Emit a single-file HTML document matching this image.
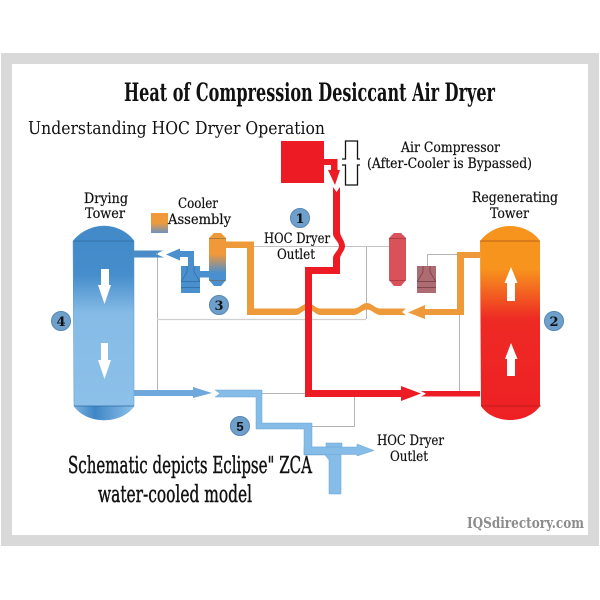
<!DOCTYPE html>
<html>
<head>
<meta charset="utf-8">
<style>
html,body{margin:0;padding:0;background:#fff;width:600px;height:600px;overflow:hidden}
svg{display:block}
text{font-family:"DejaVu Serif","Liberation Serif",serif;fill:#111}
</style>
</head>
<body>
<svg width="600" height="600" viewBox="0 0 600 600" xmlns="http://www.w3.org/2000/svg">
<defs>
<linearGradient id="lt" x1="0" y1="226" x2="0" y2="420" gradientUnits="userSpaceOnUse">
<stop offset="0" stop-color="#4189c8"/><stop offset="0.25" stop-color="#458dcb"/><stop offset="0.45" stop-color="#85bbe6"/><stop offset="1" stop-color="#8dc1ea"/>
</linearGradient>
<linearGradient id="ld" x1="74" y1="0" x2="134" y2="0" gradientUnits="userSpaceOnUse">
<stop offset="0" stop-color="#7ab2e0"/><stop offset="0.35" stop-color="#3f86c6"/><stop offset="1" stop-color="#8dc1ea"/>
</linearGradient>
<linearGradient id="rt" x1="0" y1="226" x2="0" y2="420" gradientUnits="userSpaceOnUse">
<stop offset="0" stop-color="#f7941d"/><stop offset="0.22" stop-color="#f7941d"/><stop offset="0.48" stop-color="#ee2a24"/><stop offset="1" stop-color="#ee2024"/>
</linearGradient>
<linearGradient id="cv" x1="0" y1="233" x2="0" y2="286" gradientUnits="userSpaceOnUse">
<stop offset="0" stop-color="#ee9a3a"/><stop offset="0.4" stop-color="#f0983a"/><stop offset="0.75" stop-color="#4a90cf"/><stop offset="1" stop-color="#4a90cf"/>
</linearGradient>
<linearGradient id="sw" x1="0" y1="213" x2="0" y2="233" gradientUnits="userSpaceOnUse">
<stop offset="0" stop-color="#f0983a"/><stop offset="0.5" stop-color="#ee9a3a"/><stop offset="1" stop-color="#6b93c0"/>
</linearGradient>
</defs>

<!-- frame -->
<rect x="1" y="53" width="598" height="493" fill="#d9d9d9"/>
<rect x="12" y="64" width="576" height="471" fill="#fff"/>

<!-- thin lines -->
<g fill="none" stroke="#b4b4b4" stroke-width="1">
<path d="M157.500 253V391"/>
<path d="M157 319.500H366" stroke="#cfcfcf" stroke-width="1.300"/>
<path d="M366.500 246V319"/>
<path d="M254 246.500H389" stroke="#c4c4c4"/>
<path d="M427.500 266V254.500H457"/>
<path d="M459.500 315V391"/>
<path d="M262 393.500H305"/>
<path d="M354.500 397V426.500H312"/>
</g>

<!-- towers -->
<path d="M73 241C80 232 92 226 104 226C116 226 128 232 134 241V406C128 415 116 420 104 420C92 420 80 415 74 406Z" fill="url(#lt)" stroke="#5a94c8" stroke-width="0.500"/>
<path d="M74 406H134C128 415 116 420 104 420C92 420 80 415 74 406Z" fill="url(#ld)"/>
<path d="M73 241H134M74 406H134" stroke="#2f6a9f" stroke-width="0.800" fill="none"/>
<path d="M480 241C487 232 498 226 510 226C522 226 534 232 540 241V406C534 415 522 420 510 420C498 420 487 415 481 406Z" fill="url(#rt)"/>
<path d="M480 241H540" stroke="#a8521a" stroke-width="0.800" fill="none"/>
<path d="M481 406H541" stroke="#a81a1e" stroke-width="0.800" fill="none"/>

<!-- tower arrows -->
<g fill="#fff">
<path d="M101 269H109V285H111L104.500 304L98 285H101Z"/>
<path d="M101 343H108V360H111L104.500 379L98 360H101Z"/>
<path d="M507 301V283H504.500L511 267L517.500 283H515V301Z"/>
<path d="M507 376V359H505L511 343L517.500 359H515V376Z"/>
</g>

<!-- orange pipes (beneath red) -->
<g fill="#ee9a3a">
<path d="M480 252H457V309H425V305L408 312.500L425 319V315H464V258H480Z"/>
<path d="M406 308.500L402 312L406 315H380C375 315 372 309.500 367 309.500C362 309.500 359 315 354 315H320C316 315 313 309.500 308 309.500C303 309.500 300 315 296 315H247V248H225V241.500H254V308.500H296C300 308.500 303 303.500 308 303.500C313 303.500 316 308.500 320 308.500H354C359 308.500 362 303 367 303C372 303 375 308.500 380 308.500Z"/>
</g>

<!-- red compressor and pipe -->
<rect x="281" y="141" width="43" height="42" fill="#ed1c24"/>
<g fill="#ed1c24">
<path d="M324 159H337.500V170H340L335 185L328 170H331V165H324Z"/>
<path d="M333 187L336.500 192L340 187V232C340 236 345 241 345 246C345 251 340 254 340 259V274H312V390H401V386L421 393.500L401 401V397H305V267H333V258C333 254 339 250 339 246C339 242 333 238 333 234Z"/>
<path d="M421 391H480V396.500H421L426 393.700Z"/>
</g>

<!-- cooler vessel -->
<path d="M209 238L214 233H221L226 238V280L221 286H214L209 280Z" fill="url(#cv)"/>
<path d="M209 238.500H226M209 280.500H226" stroke="#7a5a3a" stroke-width="0.600"/>
<rect x="151" y="213" width="17" height="20" fill="url(#sw)"/>

<!-- blue cooler box -->
<rect x="181" y="266" width="19" height="27" fill="#4a90cf"/>
<rect x="200" y="271" width="9" height="6.500" fill="#4a90cf"/>
<path d="M180 251H194V266H188V257H180V260.500L166 254.500L180 248.500Z" fill="#4a90cf"/>
<path d="M187 266V272L181.500 281M194 266V272L199.500 281M181 281.500H200M181 287.500H200" fill="none" stroke="#2f6a9f" stroke-width="0.700"/>

<!-- red vessel, regenerating cooler box -->
<path d="M389 238L394 233H401L406 238V280L401 286H394L389 280Z" fill="#d9515a"/>
<path d="M389 238.500H406M389 280.500H406" stroke="#8f2a30" stroke-width="0.600"/>
<rect x="417" y="266" width="19" height="27" fill="#ad6b72"/>
<path d="M423 266V272L417.500 281M430 266V272L435.500 281M417 281.500H436M417 287.500H436" fill="none" stroke="#6f3a40" stroke-width="0.700"/>

<!-- blue pipes -->
<path d="M134 250.500H163L156 254L164 257.500H134Z" fill="#4a8cc8"/>
<path d="M134 390H193V387L212 393L193 398V396H134Z" fill="#6ea8dc"/>
<g fill="#85bde8" stroke="#6ba3d4" stroke-width="0.500">
<path d="M326 443H342V447H341V494H329V460L325 455H304V447H326Z"/>
<path d="M215 390H262V423H312V447H357V444L374 450.500L357 456V454.500H304V429H256V397H215L220 393.500Z"/>
</g>

<!-- bracket -->
<g fill="none" stroke="#111" stroke-width="1.300">
<path d="M342 159H345.500V141H357.500V159H360"/>
<path d="M342 165H345.500V185H357.500V165H360"/>
</g>

<!-- number circles -->
<g fill="#6f9fcb" stroke="#5388b8" stroke-width="1">
<circle cx="300" cy="218" r="9.500"/>
<circle cx="554" cy="321" r="9.500"/>
<circle cx="219" cy="305" r="9.500"/>
<circle cx="61" cy="321" r="9.500"/>
<circle cx="240" cy="426" r="9.500"/>
</g>
<g font-size="13" text-anchor="middle" font-weight="bold">
<text x="300" y="223">1</text>
<text x="554" y="326">2</text>
<text x="219" y="310">3</text>
<text x="61" y="326">4</text>
<text x="240" y="431" style="font-family:'Liberation Sans',sans-serif">5</text>
</g>

<!-- text -->
<text x="124" y="101" font-size="25" font-weight="bold" textLength="371" lengthAdjust="spacingAndGlyphs">Heat of Compression Desiccant Air Dryer</text>
<text x="28" y="134" font-size="18" textLength="297" lengthAdjust="spacingAndGlyphs">Understanding HOC Dryer Operation</text>
<g font-size="14" stroke="#111" stroke-width="0.200">
<text x="84" y="203" textLength="44" lengthAdjust="spacingAndGlyphs">Drying</text>
<text x="85" y="218" textLength="40" lengthAdjust="spacingAndGlyphs">Tower</text>
<text x="178" y="208" textLength="40" lengthAdjust="spacingAndGlyphs">Cooler</text>
<text x="168" y="224" textLength="63" lengthAdjust="spacingAndGlyphs">Assembly</text>
<text x="264" y="243" textLength="66" lengthAdjust="spacingAndGlyphs">HOC Dryer</text>
<text x="277" y="259" textLength="38" lengthAdjust="spacingAndGlyphs">Outlet</text>
<text x="401" y="152" textLength="99" lengthAdjust="spacingAndGlyphs">Air Compressor</text>
<text x="367" y="168" textLength="165" lengthAdjust="spacingAndGlyphs">(After-Cooler is Bypassed)</text>
<text x="472" y="202" textLength="86" lengthAdjust="spacingAndGlyphs">Regenerating</text>
<text x="490" y="218" textLength="39" lengthAdjust="spacingAndGlyphs">Tower</text>
<text x="377" y="445" textLength="67" lengthAdjust="spacingAndGlyphs">HOC Dryer</text>
<text x="390" y="461" textLength="38" lengthAdjust="spacingAndGlyphs">Outlet</text>
</g>
<text x="68" y="473" font-size="23" textLength="244" lengthAdjust="spacingAndGlyphs" stroke="#111" stroke-width="0.450">Schematic depicts Eclipse" ZCA</text>
<text x="98" y="502" font-size="23" textLength="154" lengthAdjust="spacingAndGlyphs" stroke="#111" stroke-width="0.450">water-cooled model</text>
<text x="467" y="528" font-size="14.500" font-weight="bold" textLength="117" lengthAdjust="spacingAndGlyphs" style="fill:#8c8c8c">IQSdirectory.com</text>
</svg>
</body>
</html>
